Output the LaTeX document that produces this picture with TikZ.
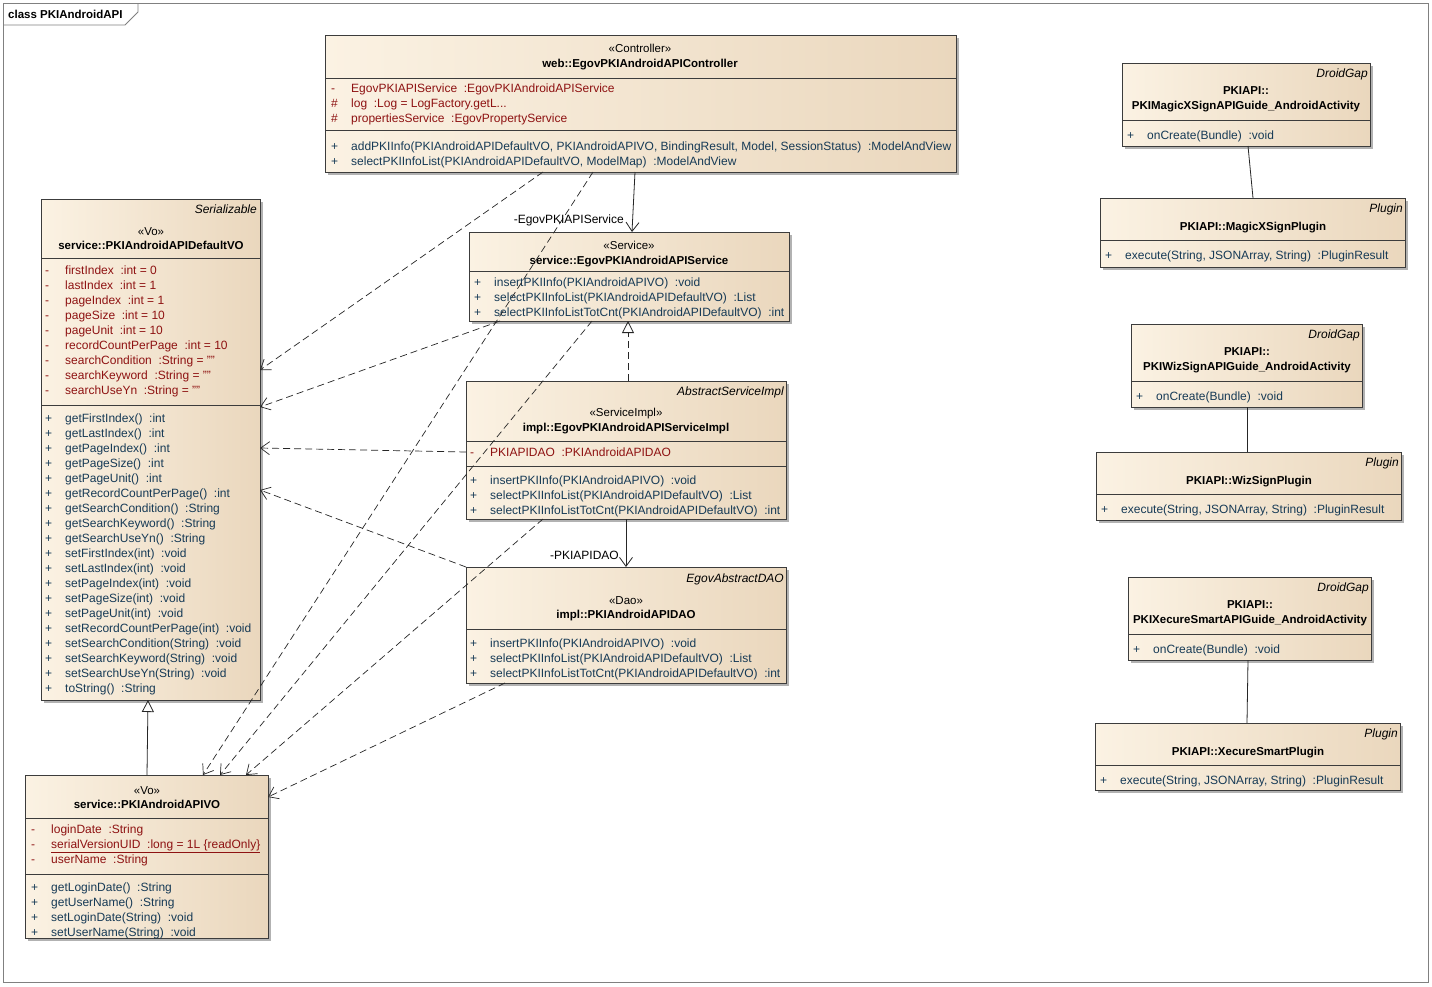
\documentclass[tikz,border=0pt]{standalone}
\usepackage{fontspec}
\setmainfont{Liberation Sans}
\usetikzlibrary{arrows.meta,fit,shadows}
\definecolor{boxleft}{HTML}{FBF2E3}
\definecolor{boxright}{HTML}{EAD7BD}
\definecolor{boxline}{HTML}{3C3C3C}
\definecolor{attrred}{HTML}{8E1212}
\definecolor{opnavy}{HTML}{163A56}
\definecolor{framegray}{HTML}{808080}
\newcommand{\vis}[1]{\makebox[20pt][l]{#1}}
\tikzset{
  classbox/.style={draw=boxline, line width=0.8pt, left color=boxleft, right color=boxright,
                   inner sep=0pt, outer sep=0pt,
                   drop shadow={shadow xshift=3pt, shadow yshift=-3pt, fill=black!30, opacity=1}},
  divider/.style={draw=boxline, line width=0.8pt},
  attrs/.style={anchor=north west, align=left, inner sep=0pt, yshift=-1pt, text=attrred,
                font=\fontsize{12}{15}\selectfont},
  opers/.style={anchor=north west, align=left, inner sep=0pt, yshift=-1pt, text=opnavy,
                font=\fontsize{12}{15}\selectfont},
  stereo/.style={anchor=base, inner sep=0pt, font=\fontsize{11.5}{15}\selectfont},
  cname/.style={anchor=base, inner sep=0pt, font=\bfseries\fontsize{11.5}{15}\selectfont},
  cname2/.style={anchor=north, align=center, inner sep=0pt, font=\bfseries\fontsize{11.5}{15}\selectfont},
  tagtext/.style={anchor=base east, inner sep=0pt, font=\itshape\fontsize{12}{15}\selectfont},
  rolelbl/.style={anchor=base east, inner sep=0pt, font=\fontsize{12}{15}\selectfont},
  depend/.style={draw=black!85, line width=0.7pt, dash pattern=on 7pt off 4pt,
                 -{Straight Barb[length=9pt,width=13pt]}},
  assoc/.style={draw=black!85, line width=0.8pt, -{Straight Barb[length=9pt,width=13pt]}},
  realize/.style={draw=black!85, line width=0.8pt, dash pattern=on 7pt off 4pt,
                  -{Triangle[open,length=12pt,width=12pt]}},
  inherit/.style={draw=black!85, line width=0.8pt, -{Triangle[open,length=12pt,width=12pt]}},
  link/.style={draw=black!85, line width=0.8pt},
}
\begin{document}
\begin{tikzpicture}[x=1pt, y=-1pt]
\useasboundingbox[fill=white] (0,0) rectangle (1432,986);
% frame
\draw[framegray, line width=0.8pt] (3,3) rectangle (1428,982);
\draw[framegray, line width=0.8pt] (3,25) -- (125,25) -- (138,12) -- (138,3);
\node[anchor=base west, inner sep=0pt, font=\bfseries\fontsize{11.5}{15}\selectfont] (frametitle) at (8,18) {class PKIAndroidAPI};

% controller
\node[classbox, fit={(325,35) (956,172)}] (ctrl) {};
\node[stereo] (ctrl-st) at (640,52) {«Controller»};
\node[cname] (ctrl-nm) at (640,67) {web::EgovPKIAndroidAPIController};
\draw[divider] ([yshift=-43pt]ctrl.north west) -- ([yshift=-43pt]ctrl.north east);
\draw[divider] ([yshift=-95pt]ctrl.north west) -- ([yshift=-95pt]ctrl.north east);
\node[attrs] (ctrl-at) at (331,82.5) {\vis{-}EgovPKIAPIService~~:EgovPKIAndroidAPIService\\
\vis{\#}log~~:Log = LogFactory.getL...\\
\vis{\#}propertiesService~~:EgovPropertyService};
\node[opers] (ctrl-op) at (331,140.5) {\vis{+}addPKIInfo(PKIAndroidAPIDefaultVO, PKIAndroidAPIVO, BindingResult, Model, SessionStatus)~~:ModelAndView\\
\vis{+}selectPKIInfoList(PKIAndroidAPIDefaultVO, ModelMap)~~:ModelAndView};

% default vo
\node[classbox, fit={(41,199) (260,700)}] (dv) {};
\node[tagtext] (dv-tag) at (257,213) {Serializable};
\node[stereo] (dv-st) at (151,235) {«Vo»};
\node[cname] (dv-nm) at (151,249) {service::PKIAndroidAPIDefaultVO};
\draw[divider] ([yshift=-59pt]dv.north west) -- ([yshift=-59pt]dv.north east);
\draw[divider] ([yshift=-206pt]dv.north west) -- ([yshift=-206pt]dv.north east);
\node[attrs] (dv-at) at (45,264.5) {\vis{-}firstIndex~~:int = 0\\
\vis{-}lastIndex~~:int = 1\\
\vis{-}pageIndex~~:int = 1\\
\vis{-}pageSize~~:int = 10\\
\vis{-}pageUnit~~:int = 10\\
\vis{-}recordCountPerPage~~:int = 10\\
\vis{-}searchCondition~~:String = ""\\
\vis{-}searchKeyword~~:String = ""\\
\vis{-}searchUseYn~~:String = ""};
\node[opers] (dv-op) at (45,412.5) {\vis{+}getFirstIndex()~~:int\\
\vis{+}getLastIndex()~~:int\\
\vis{+}getPageIndex()~~:int\\
\vis{+}getPageSize()~~:int\\
\vis{+}getPageUnit()~~:int\\
\vis{+}getRecordCountPerPage()~~:int\\
\vis{+}getSearchCondition()~~:String\\
\vis{+}getSearchKeyword()~~:String\\
\vis{+}getSearchUseYn()~~:String\\
\vis{+}setFirstIndex(int)~~:void\\
\vis{+}setLastIndex(int)~~:void\\
\vis{+}setPageIndex(int)~~:void\\
\vis{+}setPageSize(int)~~:void\\
\vis{+}setPageUnit(int)~~:void\\
\vis{+}setRecordCountPerPage(int)~~:void\\
\vis{+}setSearchCondition(String)~~:void\\
\vis{+}setSearchKeyword(String)~~:void\\
\vis{+}setSearchUseYn(String)~~:void\\
\vis{+}toString()~~:String};

% api vo
\node[classbox, fit={(25,775) (268,938)}] (vo) {};
\node[stereo] (vo-st) at (147,794) {«Vo»};
\node[cname] (vo-nm) at (147,808) {service::PKIAndroidAPIVO};
\draw[divider] ([yshift=-43pt]vo.north west) -- ([yshift=-43pt]vo.north east);
\draw[divider] ([yshift=-99pt]vo.north west) -- ([yshift=-99pt]vo.north east);
\node[attrs] (vo-at) at (31,823.5) {\vis{-}loginDate~~:String\\
\vis{-}\underline{serialVersionUID~~:long = 1L \{readOnly\}}\\
\vis{-}userName~~:String};
\node[opers] (vo-op) at (31,881.5) {\vis{+}getLoginDate()~~:String\\
\vis{+}getUserName()~~:String\\
\vis{+}setLoginDate(String)~~:void\\
\vis{+}setUserName(String)~~:void};

% service
\node[classbox, fit={(469,232) (789,321)}] (svc) {};
\node[stereo] (svc-st) at (629,249) {«Service»};
\node[cname] (svc-nm) at (629,264) {service::EgovPKIAndroidAPIService};
\draw[divider] ([yshift=-39pt]svc.north west) -- ([yshift=-39pt]svc.north east);
\node[opers] (svc-op) at (474,276.5) {\vis{+}insertPKIInfo(PKIAndroidAPIVO)~~:void\\
\vis{+}selectPKIInfoList(PKIAndroidAPIDefaultVO)~~:List\\
\vis{+}selectPKIInfoListTotCnt(PKIAndroidAPIDefaultVO)~~:int};

% service impl
\node[classbox, fit={(466,381) (786,519)}] (impl) {};
\node[tagtext] (impl-tag) at (784,395) {AbstractServiceImpl};
\node[stereo] (impl-st) at (626,416) {«ServiceImpl»};
\node[cname] (impl-nm) at (626,431) {impl::EgovPKIAndroidAPIServiceImpl};
\draw[divider] ([yshift=-60pt]impl.north west) -- ([yshift=-60pt]impl.north east);
\draw[divider] ([yshift=-85pt]impl.north west) -- ([yshift=-85pt]impl.north east);
\node[attrs] (impl-at) at (470,446.5) {\vis{-}PKIAPIDAO~~:PKIAndroidAPIDAO};
\node[opers] (impl-op) at (470,474.5) {\vis{+}insertPKIInfo(PKIAndroidAPIVO)~~:void\\
\vis{+}selectPKIInfoList(PKIAndroidAPIDefaultVO)~~:List\\
\vis{+}selectPKIInfoListTotCnt(PKIAndroidAPIDefaultVO)~~:int};

% dao
\node[classbox, fit={(466,567) (786,683)}] (dao) {};
\node[tagtext] (dao-tag) at (784,582) {EgovAbstractDAO};
\node[stereo] (dao-st) at (626,604) {«Dao»};
\node[cname] (dao-nm) at (626,618) {impl::PKIAndroidAPIDAO};
\draw[divider] ([yshift=-62pt]dao.north west) -- ([yshift=-62pt]dao.north east);
\node[opers] (dao-op) at (470,637.5) {\vis{+}insertPKIInfo(PKIAndroidAPIVO)~~:void\\
\vis{+}selectPKIInfoList(PKIAndroidAPIDefaultVO)~~:List\\
\vis{+}selectPKIInfoListTotCnt(PKIAndroidAPIDefaultVO)~~:int};

% magicxsign
\node[classbox, fit={(1122,63) (1370,146)}] (magact) {};
\node[tagtext] (magact-tag) at (1368,77) {DroidGap};
\node[cname2] (magact-nm) at (1246,86.5) {PKIAPI::\\PKIMagicXSignAPIGuide\_AndroidActivity};
\draw[divider] ([yshift=-57pt]magact.north west) -- ([yshift=-57pt]magact.north east);
\node[opers] (magact-op) at (1127,129.5) {\vis{+}onCreate(Bundle)~~:void};
\node[classbox, fit={(1100,198) (1405,267)}] (magplug) {};
\node[tagtext] (magplug-tag) at (1403,212) {Plugin};
\node[cname] (magplug-nm) at (1253,230) {PKIAPI::MagicXSignPlugin};
\draw[divider] ([yshift=-42pt]magplug.north west) -- ([yshift=-42pt]magplug.north east);
\node[opers] (magplug-op) at (1105,249.5) {\vis{+}execute(String, JSONArray, String)~~:PluginResult};

% wizsign
\node[classbox, fit={(1131,324) (1362,407)}] (wizact) {};
\node[tagtext] (wizact-tag) at (1360,338) {DroidGap};
\node[cname2] (wizact-nm) at (1247,347.5) {PKIAPI::\\PKIWizSignAPIGuide\_AndroidActivity};
\draw[divider] ([yshift=-57pt]wizact.north west) -- ([yshift=-57pt]wizact.north east);
\node[opers] (wizact-op) at (1136,390.5) {\vis{+}onCreate(Bundle)~~:void};
\node[classbox, fit={(1096,452) (1401,520)}] (wizplug) {};
\node[tagtext] (wizplug-tag) at (1399,466) {Plugin};
\node[cname] (wizplug-nm) at (1249,484) {PKIAPI::WizSignPlugin};
\draw[divider] ([yshift=-42pt]wizplug.north west) -- ([yshift=-42pt]wizplug.north east);
\node[opers] (wizplug-op) at (1101,503.5) {\vis{+}execute(String, JSONArray, String)~~:PluginResult};

% xecuresmart
\node[classbox, fit={(1128,577) (1371,660)}] (xecact) {};
\node[tagtext] (xecact-tag) at (1369,591) {DroidGap};
\node[cname2] (xecact-nm) at (1250,600.5) {PKIAPI::\\PKIXecureSmartAPIGuide\_AndroidActivity};
\draw[divider] ([yshift=-57pt]xecact.north west) -- ([yshift=-57pt]xecact.north east);
\node[opers] (xecact-op) at (1133,643.5) {\vis{+}onCreate(Bundle)~~:void};
\node[classbox, fit={(1095,723) (1400,790)}] (xecplug) {};
\node[tagtext] (xecplug-tag) at (1398,737) {Plugin};
\node[cname] (xecplug-nm) at (1248,755) {PKIAPI::XecureSmartPlugin};
\draw[divider] ([yshift=-42pt]xecplug.north west) -- ([yshift=-42pt]xecplug.north east);
\node[opers] (xecplug-op) at (1100,774.5) {\vis{+}execute(String, JSONArray, String)~~:PluginResult};

% connectors
\draw[depend] ([xshift=218pt]ctrl.south west) -- ([yshift=-171pt]dv.north east);
\draw[depend] ([xshift=268pt]ctrl.south west) -- ([xshift=178pt]vo.north west);
\draw[assoc] ([xshift=310pt]ctrl.south west) -- ([xshift=163pt]svc.north west);
\node[rolelbl] (svc-role) at (624,223) {-EgovPKIAPIService};
\draw[depend] ([xshift=31pt]svc.south west) -- ([yshift=-208pt]dv.north east);
\draw[depend] ([xshift=123pt]svc.south west) -- ([xshift=195pt]vo.north west);
\draw[realize] ([xshift=162pt]impl.north west) -- ([xshift=159pt]svc.south west);
\draw[depend] ([yshift=-71pt]impl.north west) -- ([yshift=-249pt]dv.north east);
\draw[depend] ([xshift=77pt]impl.south west) -- ([xshift=221pt]vo.north west);
\draw[assoc] ([xshift=160pt]impl.south west) -- ([xshift=160pt]dao.north west);
\node[rolelbl] (dao-role) at (619,559) {-PKIAPIDAO};
\draw[depend] (dao.north west) -- ([yshift=-291pt]dv.north east);
\draw[depend] ([xshift=39pt]dao.south west) -- ([yshift=-22pt]vo.north east);
\draw[inherit] ([xshift=122pt]vo.north west) -- ([xshift=107pt]dv.south west);
\draw[link] ([xshift=126pt]magact.south west) -- ([xshift=153pt]magplug.north west);
\draw[link] ([xshift=116pt]wizact.south west) -- ([xshift=151pt]wizplug.north west);
\draw[link] ([xshift=120pt]xecact.south west) -- ([xshift=152pt]xecplug.north west);
\end{tikzpicture}
\end{document}
